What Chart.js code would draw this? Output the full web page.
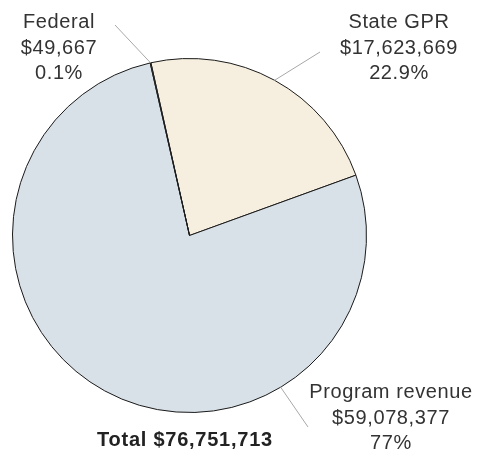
<!DOCTYPE html>
<html>
<head>
<meta charset="utf-8">
<script src="https://cdn.jsdelivr.net/npm/chart.js@4"></script>
<style>
  html, body { margin: 0; padding: 0; background: #fff; }
  #wrap { width: 478px; height: 461px; position: relative; }
</style>
</head>
<body>
<div id="wrap"><canvas id="revenuePie" width="478" height="461"></canvas></div>
<script>
// data
const categories = ["State GPR", "Program revenue", "Federal"];
const amounts = [17623669, 59078377, 49667];
const shareLabels = ["22.9%", "77%", "0.1%"];
const totalLabel = "Total $76,751,713";

const fills = ["#f6efe0", "#d9e1e8", "#e1dce5"];

function money(v) {
    return "$" + v.toLocaleString("en-US");
}

// label placement (text center x, first baseline y, line outer end, touch angle on pie)
const labelSpots = [
    { x: 399, y: 28, lx: 320, ly: 52, angle: null },
    { x: 391, y: 398, lx: 308, ly: 427, angle: 149 },
    { x: 59, y: 28, lx: 115, ly: 25, angle: null }
];

const calloutPlugin = {
    id: "callouts",
    afterDatasetsDraw(chart) {
        const ctx = chart.ctx;
        const meta = chart.getDatasetMeta(0);
        ctx.save();
        meta.data.forEach((arc, i) => {
            const spot = labelSpots[i];
            const p = arc.getProps(["x", "y", "startAngle", "endAngle", "outerRadius"], true);
            const a = spot.angle === null
                ? (p.startAngle + p.endAngle) / 2
                : (spot.angle - 90) * Math.PI / 180;
            const tx = p.x + Math.cos(a) * p.outerRadius;
            const ty = p.y + Math.sin(a) * p.outerRadius;
            ctx.strokeStyle = "#a8a8a8";
            ctx.lineWidth = 1;
            ctx.beginPath();
            ctx.moveTo(tx, ty);
            ctx.lineTo(spot.lx, spot.ly);
            ctx.stroke();

            ctx.fillStyle = "#333";
            ctx.font = "20px 'Liberation Sans', Arial, sans-serif";
            ctx.letterSpacing = "0.6px";
            ctx.textAlign = "center";
            ctx.textBaseline = "alphabetic";
            const lines = [categories[i], money(amounts[i]), shareLabels[i]];
            lines.forEach((t, k) => ctx.fillText(t, spot.x, spot.y + k * 25.5));
        });
        ctx.fillStyle = "#222";
        ctx.font = "bold 20px 'Liberation Sans', Arial, sans-serif";
        ctx.letterSpacing = "0.75px";
        ctx.textAlign = "center";
        ctx.fillText(totalLabel, 185, 446);
        ctx.restore();
    }
};

new Chart(document.getElementById("revenuePie"), {
    type: "pie",
    data: {
        labels: categories,
        datasets: [{
            data: amounts,
            backgroundColor: fills,
            borderColor: "#1a1a1a",
            borderWidth: 1
        }]
    },
    options: {
        responsive: false,
        animation: false,
        rotation: -12.6,
        layout: { padding: { left: 12, top: 58, right: 111, bottom: 48 } },
        plugins: {
            legend: { display: false },
            tooltip: { enabled: false }
        }
    },
    plugins: [calloutPlugin]
});
</script>
</body>
</html>
